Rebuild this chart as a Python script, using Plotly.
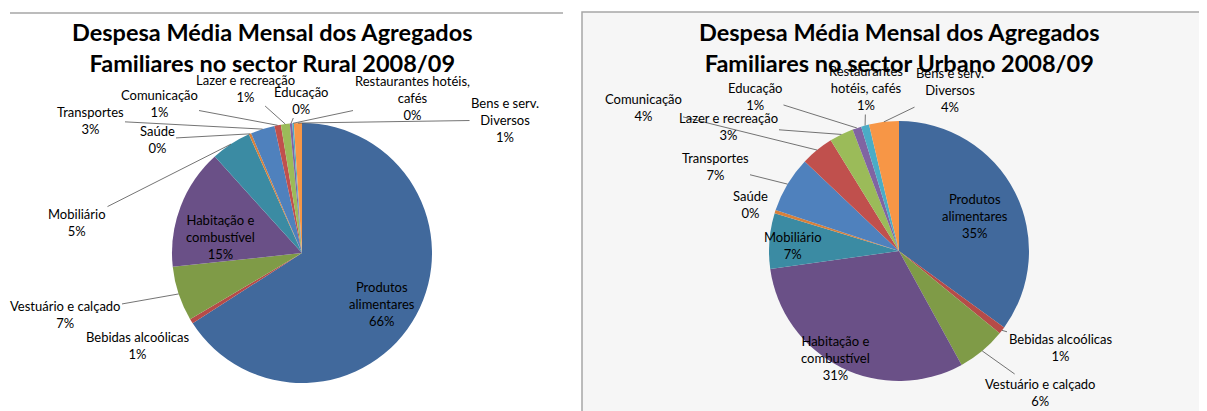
import math

import plotly.graph_objects as go

W, H = 1207, 411
OFF = 8  # the page body margin shifts the figure by this much

CATEGORIES = [
    "Produtos alimentares",
    "Bebidas alcoólicas",
    "Vestuário e calçado",
    "Habitação e combustível",
    "Mobiliário",
    "Saúde",
    "Transportes",
    "Comunicação",
    "Lazer e recreação",
    "Educação",
    "Restaurantes hotéis, cafés",
    "Bens e serv. Diversos",
]

# percent of monthly household expenditure
RURAL = [65.9, 0.6, 6.8, 15.0, 5.0, 0.3, 3.0, 0.8, 1.1, 0.3, 0.2, 1.0]
URBANO = [35.0, 0.9, 6.1, 30.8, 6.9, 0.4, 7.0, 4.1, 3.0, 1.1, 1.0, 3.7]

# wrapped label text as it shows on each chart
RURAL_NAMES = [
    "Produtos<br>alimentares", "Bebidas alcoólicas", "Vestuário e calçado",
    "Habitação e<br>combustível", "Mobiliário", "Saúde", "Transportes",
    "Comunicação", "Lazer e recreação", "Educação",
    "Restaurantes hotéis,<br>cafés", "Bens e serv.<br>Diversos",
]
URBANO_NAMES = [
    "Produtos<br>alimentares", "Bebidas alcoólicas", "Vestuário e calçado",
    "Habitação e<br>combustível", "Mobiliário", "Saúde", "Transportes",
    "Comunicação", "Lazer e recreação", "Educação",
    "Restaurantes<br>hotéis, cafés", "Bens e serv.<br>Diversos",
]

TITLES = [
    "Despesa Média Mensal dos Agregados<br>Familiares no sector Rural 2008/09",
    "Despesa Média Mensal dos Agregados<br>Familiares no sector Urbano 2008/09",
]

COLORS = [
    "#41699c", "#b64b48", "#7f9b47", "#6a5087", "#3b8ba3", "#d8803a",
    "#4f81bd", "#c0504d", "#9bbb59", "#8064a2", "#4bacc6", "#f79646",
]

FONT = "Lato"

# label centres (px) and whether a leader line is drawn
RURAL_SPOTS = [
    (382, 304, False), (137, 345, False), (65, 314, True), (220, 237, False),
    (77, 222, True), (157, 139, True), (90, 120, True), (159, 103, True),
    (245, 88, True), (301, 100, True), (412, 98, True), (505, 120, True),
]
URBANO_SPOTS = [
    (975, 216, False), (1060, 347, True), (1040, 392, True), (835, 358, False),
    (793, 245, False), (750, 204, False), (715, 166, True), (643, 107, True),
    (728, 126, True), (755, 96, True), (866, 88, True), (950, 90, True),
]


def add_pie(fig, values, names, spots, cx, cy, r):
    fig.add_trace(go.Pie(
        values=values, labels=CATEGORIES, sort=False,
        direction="clockwise", rotation=0,
        marker=dict(colors=COLORS, line=dict(width=0)),
        textinfo="none", hoverinfo="label+percent", showlegend=False,
        domain=dict(x=[(cx - r - OFF) / W, (cx + r - OFF) / W],
                    y=[1 - (cy + r - OFF) / H, 1 - (cy - r - OFF) / H]),
    ))

    total = sum(values)
    start = 0
    for v, name, (tx, ty, arrow) in zip(values, names, spots):
        mid = (start + v / 2) / total * 2 * math.pi
        start += v
        text = f"{name}<br>{round(v / total * 100)}%"
        font = dict(family=FONT, size=13, color="#000000")
        if arrow:
            fig.add_annotation(
                x=cx + r * math.sin(mid), y=cy - r * math.cos(mid),
                ax=tx, ay=ty, xref="x", yref="y", axref="x", ayref="y",
                text=text, font=font, showarrow=True, arrowhead=0,
                arrowwidth=0.8, arrowcolor="#505050", standoff=0,
            )
        else:
            fig.add_annotation(x=tx, y=ty, xref="x", yref="y", text=text,
                               font=font, showarrow=False)


fig = go.Figure()
fig.add_trace(go.Scatter(x=[], y=[], showlegend=False, hoverinfo="skip"))

# panel frames
fig.add_shape(type="line", x0=10, x1=563, y0=13, y1=13, xref="x", yref="y",
              line=dict(color="#a6a6a6", width=1.5), layer="below")
fig.add_shape(type="rect", x0=582, x1=1205, y0=12, y1=430, xref="x", yref="y",
              fillcolor="#f6f6f6", line=dict(color="#a6a6a6", width=1.5),
              layer="below")

add_pie(fig, RURAL, RURAL_NAMES, RURAL_SPOTS, 302, 253, 130)
add_pie(fig, URBANO, URBANO_NAMES, URBANO_SPOTS, 899, 251, 130)

for title, tx in zip(TITLES, [272, 899]):
    fig.add_annotation(x=tx, y=47, xref="x", yref="y", text=f"<b>{title}</b>",
                       showarrow=False,
                       font=dict(family=FONT, size=23.5, color="#000000"))

fig.update_layout(
    width=W, height=H,
    margin=dict(l=0, r=0, t=0, b=0),
    paper_bgcolor="white", plot_bgcolor="rgba(0,0,0,0)",
    xaxis=dict(range=[OFF, W + OFF], visible=False, fixedrange=True),
    yaxis=dict(range=[H + OFF, OFF], visible=False, fixedrange=True),
)

fig.write_html("out.html")
